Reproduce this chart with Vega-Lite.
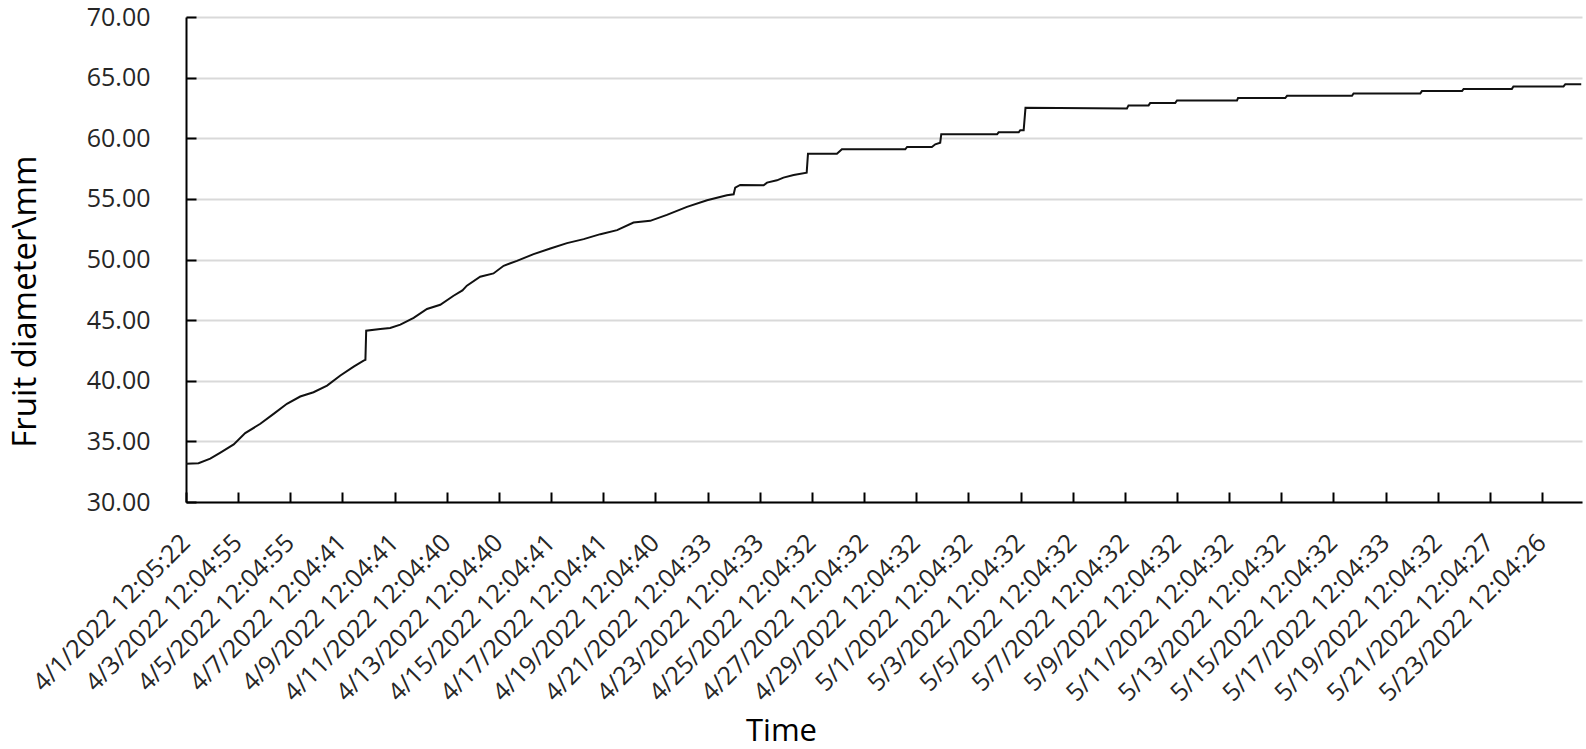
{
  "$schema": "https://vega.github.io/schema/vega-lite/v6.json",
  "width": 1396,
  "height": 485,
  "autosize": {"type": "none"},
  "padding": {"left": 186, "top": 17, "right": 4, "bottom": 247},
  "background": "white",
  "config": {"view": {"stroke": null}, "font": "Open Sans"},
  "data": {"values": [
    {"t": "2022-04-01T12:05:22", "v": 33.16},
    {"t": "2022-04-01T23:36:00", "v": 33.20},
    {"t": "2022-04-02T10:24:00", "v": 33.57},
    {"t": "2022-04-02T19:46:00", "v": 34.07},
    {"t": "2022-04-03T08:00:00", "v": 34.75},
    {"t": "2022-04-03T18:34:00", "v": 35.68},
    {"t": "2022-04-04T08:29:00", "v": 36.45},
    {"t": "2022-04-04T20:43:00", "v": 37.27},
    {"t": "2022-04-05T08:58:00", "v": 38.10},
    {"t": "2022-04-05T21:12:00", "v": 38.70},
    {"t": "2022-04-06T09:27:00", "v": 39.05},
    {"t": "2022-04-06T21:55:00", "v": 39.60},
    {"t": "2022-04-07T10:10:00", "v": 40.43},
    {"t": "2022-04-07T22:24:00", "v": 41.17},
    {"t": "2022-04-08T07:31:00", "v": 41.66},
    {"t": "2022-04-08T09:12:00", "v": 41.72},
    {"t": "2022-04-08T09:55:00", "v": 44.13},
    {"t": "2022-04-08T22:53:00", "v": 44.27},
    {"t": "2022-04-09T08:00:00", "v": 44.35},
    {"t": "2022-04-09T17:22:00", "v": 44.63},
    {"t": "2022-04-10T05:36:00", "v": 45.18},
    {"t": "2022-04-10T17:51:00", "v": 45.92},
    {"t": "2022-04-11T06:05:00", "v": 46.27},
    {"t": "2022-04-11T18:19:00", "v": 47.01},
    {"t": "2022-04-12T02:29:00", "v": 47.45},
    {"t": "2022-04-12T06:34:00", "v": 47.84},
    {"t": "2022-04-12T18:48:00", "v": 48.58},
    {"t": "2022-04-13T07:03:00", "v": 48.85},
    {"t": "2022-04-13T16:24:00", "v": 49.48},
    {"t": "2022-04-14T04:39:00", "v": 49.89},
    {"t": "2022-04-14T20:00:00", "v": 50.44},
    {"t": "2022-04-15T11:22:00", "v": 50.91},
    {"t": "2022-04-16T02:43:00", "v": 51.35},
    {"t": "2022-04-16T18:05:00", "v": 51.68},
    {"t": "2022-04-17T09:27:00", "v": 52.09},
    {"t": "2022-04-18T00:48:00", "v": 52.42},
    {"t": "2022-04-18T15:55:00", "v": 53.05},
    {"t": "2022-04-19T07:17:00", "v": 53.19},
    {"t": "2022-04-19T22:39:00", "v": 53.68},
    {"t": "2022-04-20T17:07:00", "v": 54.34},
    {"t": "2022-04-21T11:36:00", "v": 54.89},
    {"t": "2022-04-22T05:51:00", "v": 55.30},
    {"t": "2022-04-22T12:05:00", "v": 55.38},
    {"t": "2022-04-22T13:31:00", "v": 55.93},
    {"t": "2022-04-22T18:05:00", "v": 56.15},
    {"t": "2022-04-23T15:41:00", "v": 56.12},
    {"t": "2022-04-23T18:48:00", "v": 56.34},
    {"t": "2022-04-24T03:55:00", "v": 56.53},
    {"t": "2022-04-24T09:55:00", "v": 56.75},
    {"t": "2022-04-24T19:17:00", "v": 56.97},
    {"t": "2022-04-25T07:17:00", "v": 57.16},
    {"t": "2022-04-25T08:29:00", "v": 58.72},
    {"t": "2022-04-26T11:07:00", "v": 58.72},
    {"t": "2022-04-26T15:41:00", "v": 59.09},
    {"t": "2022-04-29T02:00:00", "v": 59.09},
    {"t": "2022-04-29T03:41:00", "v": 59.28},
    {"t": "2022-04-30T02:29:00", "v": 59.28},
    {"t": "2022-04-30T05:36:00", "v": 59.50},
    {"t": "2022-04-30T10:10:00", "v": 59.63},
    {"t": "2022-04-30T11:07:00", "v": 60.32},
    {"t": "2022-05-02T14:29:00", "v": 60.32},
    {"t": "2022-05-02T15:55:00", "v": 60.49},
    {"t": "2022-05-03T10:24:00", "v": 60.49},
    {"t": "2022-05-03T11:51:00", "v": 60.67},
    {"t": "2022-05-03T14:58:00", "v": 60.67},
    {"t": "2022-05-03T16:39:00", "v": 62.51},
    {"t": "2022-05-07T14:00:00", "v": 62.46},
    {"t": "2022-05-07T15:27:00", "v": 62.71},
    {"t": "2022-05-08T09:55:00", "v": 62.71},
    {"t": "2022-05-08T11:22:00", "v": 62.90},
    {"t": "2022-05-09T10:24:00", "v": 62.90},
    {"t": "2022-05-09T12:05:00", "v": 63.12},
    {"t": "2022-05-11T19:17:00", "v": 63.12},
    {"t": "2022-05-11T20:15:00", "v": 63.31},
    {"t": "2022-05-13T15:41:00", "v": 63.31},
    {"t": "2022-05-13T17:22:00", "v": 63.50},
    {"t": "2022-05-16T05:07:00", "v": 63.50},
    {"t": "2022-05-16T06:34:00", "v": 63.70},
    {"t": "2022-05-18T20:00:00", "v": 63.70},
    {"t": "2022-05-18T21:27:00", "v": 63.89},
    {"t": "2022-05-20T10:24:00", "v": 63.89},
    {"t": "2022-05-20T11:51:00", "v": 64.07},
    {"t": "2022-05-22T08:15:00", "v": 64.07},
    {"t": "2022-05-22T09:41:00", "v": 64.27},
    {"t": "2022-05-24T07:46:00", "v": 64.27},
    {"t": "2022-05-24T09:27:00", "v": 64.46},
    {"t": "2022-05-25T00:05:00", "v": 64.46}
  ]},
  "mark": {"type": "line", "color": "#111111", "strokeWidth": 2, "interpolate": "linear"},
  "encoding": {
    "x": {
      "field": "t", "type": "temporal",
      "scale": {"domain": [
        {"year": 2022, "month": 4, "date": 1, "hours": 12, "minutes": 5, "seconds": 22},
        {"year": 2022, "month": 5, "date": 25, "hours": 0, "minutes": 47}
      ]},
      "axis": {
        "title": "Time",
        "values": [
          {"year": 2022, "month": 4, "date": 1, "hours": 12, "minutes": 5, "seconds": 22},
          {"year": 2022, "month": 4, "date": 3, "hours": 12, "minutes": 4, "seconds": 55},
          {"year": 2022, "month": 4, "date": 5, "hours": 12, "minutes": 4, "seconds": 55},
          {"year": 2022, "month": 4, "date": 7, "hours": 12, "minutes": 4, "seconds": 41},
          {"year": 2022, "month": 4, "date": 9, "hours": 12, "minutes": 4, "seconds": 41},
          {"year": 2022, "month": 4, "date": 11, "hours": 12, "minutes": 4, "seconds": 40},
          {"year": 2022, "month": 4, "date": 13, "hours": 12, "minutes": 4, "seconds": 40},
          {"year": 2022, "month": 4, "date": 15, "hours": 12, "minutes": 4, "seconds": 41},
          {"year": 2022, "month": 4, "date": 17, "hours": 12, "minutes": 4, "seconds": 41},
          {"year": 2022, "month": 4, "date": 19, "hours": 12, "minutes": 4, "seconds": 40},
          {"year": 2022, "month": 4, "date": 21, "hours": 12, "minutes": 4, "seconds": 33},
          {"year": 2022, "month": 4, "date": 23, "hours": 12, "minutes": 4, "seconds": 33},
          {"year": 2022, "month": 4, "date": 25, "hours": 12, "minutes": 4, "seconds": 32},
          {"year": 2022, "month": 4, "date": 27, "hours": 12, "minutes": 4, "seconds": 32},
          {"year": 2022, "month": 4, "date": 29, "hours": 12, "minutes": 4, "seconds": 32},
          {"year": 2022, "month": 5, "date": 1, "hours": 12, "minutes": 4, "seconds": 32},
          {"year": 2022, "month": 5, "date": 3, "hours": 12, "minutes": 4, "seconds": 32},
          {"year": 2022, "month": 5, "date": 5, "hours": 12, "minutes": 4, "seconds": 32},
          {"year": 2022, "month": 5, "date": 7, "hours": 12, "minutes": 4, "seconds": 32},
          {"year": 2022, "month": 5, "date": 9, "hours": 12, "minutes": 4, "seconds": 32},
          {"year": 2022, "month": 5, "date": 11, "hours": 12, "minutes": 4, "seconds": 32},
          {"year": 2022, "month": 5, "date": 13, "hours": 12, "minutes": 4, "seconds": 32},
          {"year": 2022, "month": 5, "date": 15, "hours": 12, "minutes": 4, "seconds": 32},
          {"year": 2022, "month": 5, "date": 17, "hours": 12, "minutes": 4, "seconds": 33},
          {"year": 2022, "month": 5, "date": 19, "hours": 12, "minutes": 4, "seconds": 32},
          {"year": 2022, "month": 5, "date": 21, "hours": 12, "minutes": 4, "seconds": 27},
          {"year": 2022, "month": 5, "date": 23, "hours": 12, "minutes": 4, "seconds": 26}
        ],
        "format": "%-m/%-d/%Y %H:%M:%S",
        "labelAngle": -45,
        "labelAlign": "right",
        "labelBaseline": "alphabetic",
        "labelFontSize": 25,
        "labelLimit": 0,
        "labelColor": "#262626",
        "labelPadding": 52,
        "labelOffset": 5,
        "labelOverlap": false,
        "labelFlush": false,
        "labelBound": false,
        "tickSize": -10,
        "tickColor": "#000000",
        "tickWidth": 2,
        "domainColor": "#000000",
        "domainWidth": 2,
        "grid": false,
        "titleFontSize": 31,
        "titleFontWeight": "normal",
        "titleColor": "#000000",
        "titleX": 595,
        "titleY": 238,
        "titleAlign": "center",
        "titleBaseline": "alphabetic"
      }
    },
    "y": {
      "field": "v", "type": "quantitative",
      "scale": {"domain": [30, 70]},
      "axis": {
        "title": "Fruit diameter\\mm",
        "values": [30, 35, 40, 45, 50, 55, 60, 65, 70],
        "format": ".2f",
        "labelFontSize": 25,
        "labelColor": "#262626",
        "labelPadding": 46,
        "tickSize": -10,
        "tickColor": "#000000",
        "tickWidth": 2,
        "domainColor": "#000000",
        "domainWidth": 2,
        "grid": true,
        "gridColor": "#d9d9d9",
        "gridWidth": 2,
        "titleFontSize": 33,
        "titleFontWeight": "normal",
        "titleColor": "#000000",
        "titleX": -151,
        "titleY": 284,
        "titleAngle": -90,
        "titleAlign": "center",
        "titleBaseline": "alphabetic"
      }
    }
  }
}
